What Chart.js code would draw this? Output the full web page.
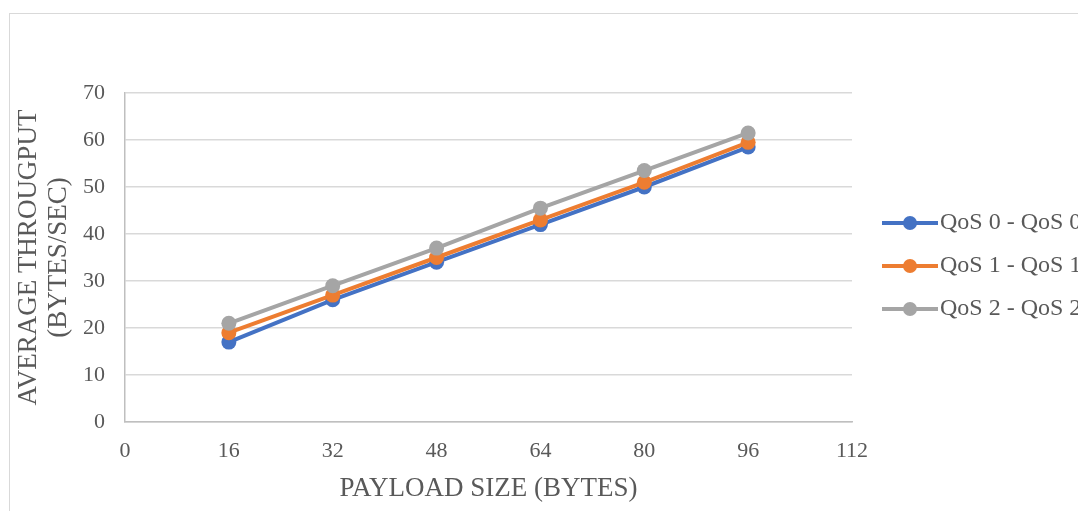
<!DOCTYPE html>
<html>
<head>
<meta charset="utf-8">
<script src="https://cdn.jsdelivr.net/npm/chart.js@4"></script>
<style>
  html, body { margin: 0; padding: 0; background: #fff; overflow: hidden; }
  #frame { position: absolute; left: 9px; top: 13px; width: 1200px; height: 600px; border: 1px solid #d9d9d9; }
  #wrap { position: absolute; left: 0; top: 0; width: 1078px; height: 511px; }
</style>
</head>
<body>
<div id="frame"></div>
<div id="wrap"><canvas id="chartjs1"></canvas></div>
<script>
// payload sizes (bytes) and average throughput per QoS pair
const payload = [16, 32, 48, 64, 80, 96];
const qos0 = [17, 26, 34, 42, 50, 58.5];
const qos1 = [19, 27, 35, 43, 51, 59.5];
const qos2 = [21, 29, 37, 45.5, 53.5, 61.5];
const seriesNames = ['QoS 0 - QoS 0', 'QoS 1 - QoS 1', 'QoS 2 - QoS 2'];
const seriesColors = ['#4472C4', '#ED7D31', '#A5A5A5'];
const xTicks = [0, 16, 32, 48, 64, 80, 96, 112];

function toPoints(vals) {
    return vals.map((v, i) => ({x: payload[i], y: v}));
}

// legend on the right: line with a dot, like the office chart
const sideLegend = {
    id: 'sideLegend',
    afterDraw(chart) {
        const ctx = chart.ctx;
        const area = chart.chartArea;
        const x0 = area.right + 30;
        let y = 223;
        ctx.save();
        chart.data.datasets.forEach((ds, i) => {
            ctx.strokeStyle = ds.borderColor;
            ctx.lineWidth = 4;
            ctx.beginPath();
            ctx.moveTo(x0, y);
            ctx.lineTo(x0 + 56, y);
            ctx.stroke();
            ctx.fillStyle = ds.borderColor;
            ctx.beginPath();
            ctx.arc(x0 + 28, y, 7, 0, Math.PI * 2);
            ctx.fill();
            ctx.fillStyle = '#595959';
            ctx.font = '24px "Liberation Serif", "Times New Roman", serif';
            ctx.textBaseline = 'middle';
            ctx.textAlign = 'left';
            ctx.fillText(ds.label, x0 + 58, y);
            y += 43;
        });
        ctx.restore();
    }
};

var tickFont = {family: '"Liberation Serif", "Times New Roman", serif', size: 22};
var titleFont = {family: '"Liberation Serif", "Times New Roman", serif', size: 27, lineHeight: '30px'};

var myChart = new Chart(document.getElementById("chartjs1"), {
    type: 'line',
    data: {
        datasets: [qos0, qos1, qos2].map((vals, i) => ({
            label: seriesNames[i],
            data: toPoints(vals),
            borderColor: seriesColors[i],
            backgroundColor: seriesColors[i],
            borderWidth: 4,
            pointRadius: 7.5,
            pointHoverRadius: 7.5,
            pointBorderWidth: 0,
            fill: false,
            tension: 0,
            order: 2 - i
        }))
    },
    options: {
        responsive: true,
        maintainAspectRatio: false,
        animation: false,
        layout: {padding: {left: 0, top: 93, right: 226, bottom: 0}},
        plugins: {
            legend: {display: false},
            tooltip: {enabled: false}
        },
        scales: {
            x: {
                type: 'linear',
                min: 0,
                max: 112,
                afterBuildTicks: s => { s.ticks = xTicks.map(v => ({value: v})); },
                afterFit: s => { s.height = 89; },
                grid: {display: false, drawTicks: false},
                border: {display: true, color: '#bfbfbf', width: 1.5},
                ticks: {color: '#595959', font: tickFont, padding: 16, maxRotation: 0, autoSkip: false},
                title: {
                    display: true,
                    text: 'PAYLOAD SIZE (BYTES)',
                    color: '#595959',
                    font: titleFont,
                    padding: {top: 0, bottom: 7}
                }
            },
            y: {
                min: 0,
                max: 70,
                afterFit: s => { s.width = 125; },
                grid: {color: '#d9d9d9', lineWidth: 1.5, drawTicks: false},
                border: {display: true, color: '#bfbfbf', width: 1.5},
                ticks: {color: '#595959', font: tickFont, padding: 20, stepSize: 10},
                title: {
                    display: true,
                    text: ['AVERAGE THROUGPUT', '(BYTES/SEC)'],
                    color: '#595959',
                    font: titleFont,
                    padding: {top: 14, bottom: 0}
                }
            }
        }
    },
    plugins: [sideLegend]
});
</script>
</body>
</html>
